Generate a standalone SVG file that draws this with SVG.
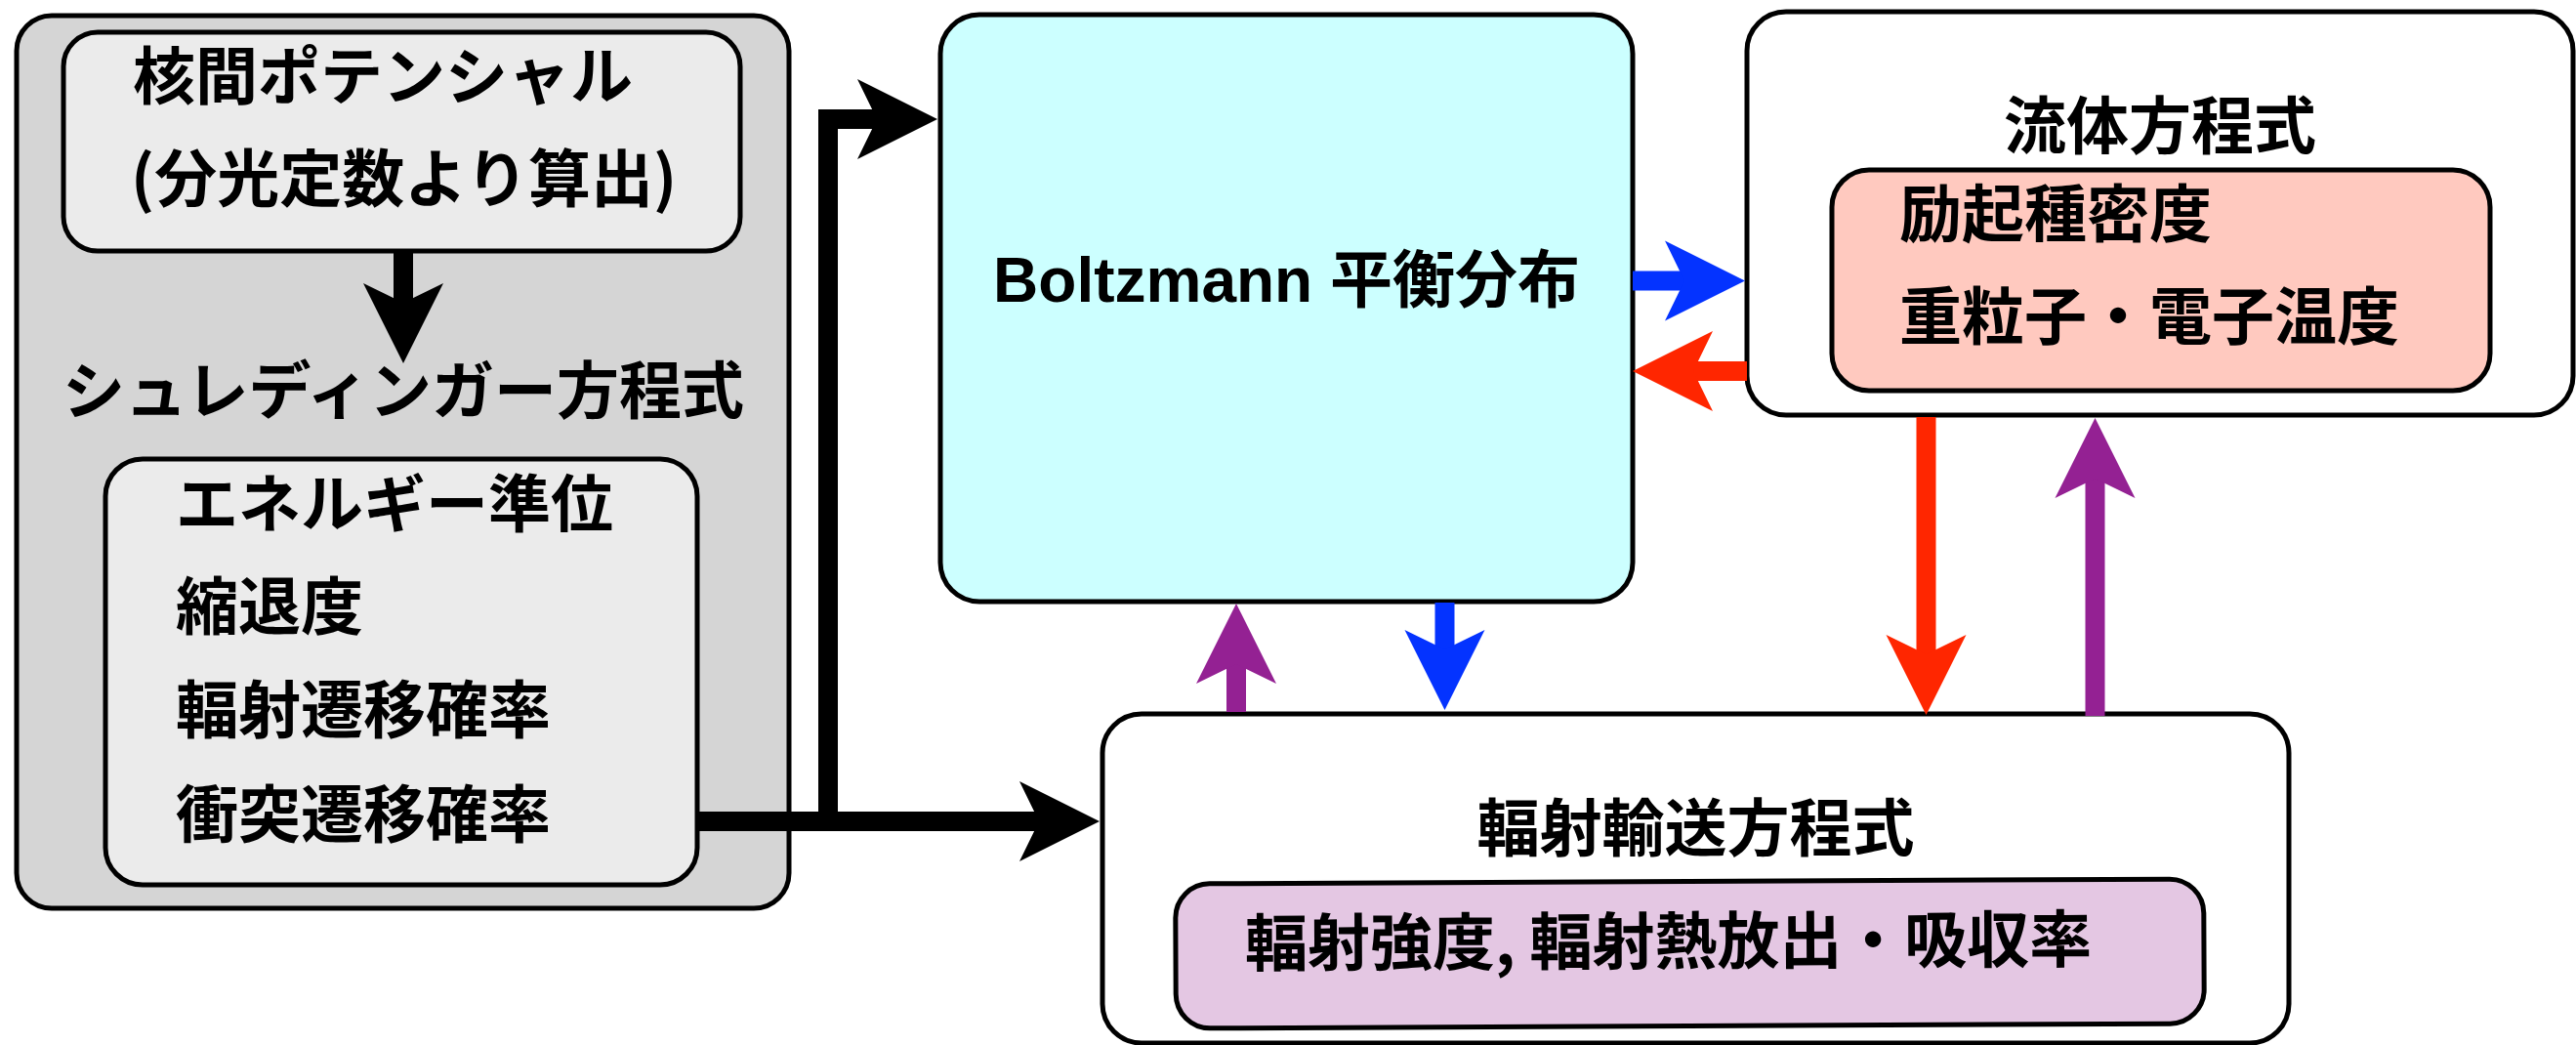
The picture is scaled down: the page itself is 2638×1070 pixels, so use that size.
<svg xmlns="http://www.w3.org/2000/svg" width="2638" height="1070" viewBox="0 0 2638 1070">
<style>
.box{stroke:#000;stroke-width:5}
.t{font-family:"Noto Sans CJK JP","Liberation Sans",sans-serif;font-weight:700;font-size:64px;fill:#000}
.lat{font-family:"Liberation Sans","Noto Sans CJK JP",sans-serif}
.mid{text-anchor:middle}
.sh{fill:none;stroke-width:20;stroke-linejoin:miter;stroke-linecap:butt}
</style>
<defs>
<marker id="mk" markerUnits="userSpaceOnUse" viewBox="0 -42 84 84" markerWidth="84" markerHeight="84" refX="20" refY="0" orient="auto"><path d="M82,0 L0,-41 L20,0 L0,41 Z" fill="#000"/></marker>
<marker id="mb" markerUnits="userSpaceOnUse" viewBox="0 -42 84 84" markerWidth="84" markerHeight="84" refX="20" refY="0" orient="auto"><path d="M82,0 L0,-41 L20,0 L0,41 Z" fill="#0433ff"/></marker>
<marker id="mr" markerUnits="userSpaceOnUse" viewBox="0 -42 84 84" markerWidth="84" markerHeight="84" refX="20" refY="0" orient="auto"><path d="M82,0 L0,-41 L20,0 L0,41 Z" fill="#ff2600"/></marker>
<marker id="mp" markerUnits="userSpaceOnUse" viewBox="0 -42 84 84" markerWidth="84" markerHeight="84" refX="20" refY="0" orient="auto"><path d="M82,0 L0,-41 L20,0 L0,41 Z" fill="#942193"/></marker>
</defs>
<rect width="2638" height="1070" fill="#fff"/>

<g id="node-atomic-data">
<rect class="box" x="17" y="16" width="791" height="914" rx="36" fill="#d5d5d5"/>
<text class="t mid" x="413" y="423">シュレディンガー方程式</text>
</g>
<g id="node-potential">
<rect class="box" x="65" y="33" width="693" height="224" rx="35" fill="#ebebeb"/>
<text class="t" x="136" y="101">核間ポテンシャル</text>
<text class="t" x="134" y="206">(分光定数より算出)</text>
</g>
<g id="node-levels">
<rect class="box" x="108" y="470" width="606" height="436" rx="38" fill="#ebebeb"/>
<text class="t" x="180" y="539">エネルギー準位</text>
<text class="t" x="180" y="644">縮退度</text>
<text class="t" x="180" y="750">輻射遷移確率</text>
<text class="t" x="180" y="857">衝突遷移確率</text>
</g>
<g id="node-boltzmann">
<rect class="box" x="963" y="15" width="709" height="601" rx="40" fill="#ccffff"/>
<text class="t lat mid" x="1317.5" y="309" font-size="62">Boltzmann 平衡分布</text>
</g>
<g id="node-fluid">
<rect class="box" x="1789" y="12" width="846" height="413" rx="40" fill="#fff" stroke-width="4.5"/>
<text class="t mid" x="2212" y="152">流体方程式</text>
</g>
<g id="node-fluid-vars">
<rect class="box" x="1876" y="174" width="674" height="226" rx="38" fill="#ffc9bf" stroke-width="5.5"/>
<text class="t" x="1945" y="242">励起種密度</text>
<text class="t" x="1945" y="347">重粒子・電子温度</text>
</g>
<g id="node-radiation">
<rect class="box" x="1129" y="731" width="1215" height="337" rx="40" fill="#fff" stroke-width="4.5"/>
<text class="t mid" x="1736.5" y="871">輻射輸送方程式</text>
</g>
<g id="node-radiation-vars" transform="rotate(-0.27 1730.5 976.5)">
<rect class="box" x="1204" y="902.5" width="1053" height="148" rx="35" fill="#e4c7e3" stroke-width="5.5"/>
<text class="t" x="1275" y="987">輻射強度, 輻射熱放出・吸収率</text>
</g>

<g id="connectors">
<path class="sh" stroke="#000" d="M413,259 V310" marker-end="url(#mk)"/>
<path class="sh" stroke="#000" d="M714,841 H1064" marker-end="url(#mk)"/>
<path class="sh" stroke="#000" d="M848,851 V122 H898" marker-end="url(#mk)"/>
<path class="sh" stroke="#0433ff" d="M1672,287.5 H1725" marker-end="url(#mb)"/>
<path class="sh" stroke="#ff2600" d="M1789,380 H1734" marker-end="url(#mr)"/>
<path class="sh" stroke="#942193" d="M1266,729 V680" marker-end="url(#mp)"/>
<path class="sh" stroke="#0433ff" d="M1479.5,617 V665" marker-end="url(#mb)"/>
<path class="sh" stroke="#ff2600" d="M1972.5,427 V670" marker-end="url(#mr)"/>
<path class="sh" stroke="#942193" d="M2145.5,733 V490" marker-end="url(#mp)"/>
</g>
</svg>
